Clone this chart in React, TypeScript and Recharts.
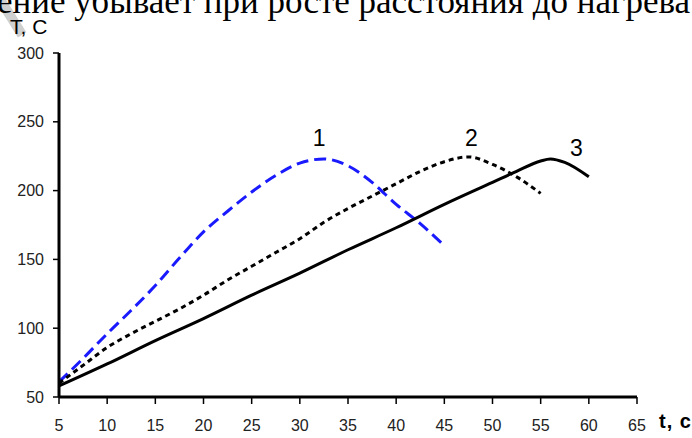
import { LineChart, Line, XAxis, YAxis, ReferenceDot } from "recharts";

// curve 1 (blue dashed)
const tBlue = [5, 7.5, 10, 12.5, 15, 17.5, 20, 22.5, 25, 27.5, 30, 32.5, 35, 37.5, 40, 42.5, 45];
const tempBlue = [61, 78, 96, 113, 131, 151, 170, 185, 199, 211, 220, 223, 218, 206, 190, 176, 160];

// curve 2 (black dotted)
const tDotted = [5, 7.5, 10, 12.5, 15, 17.5, 20, 22.5, 25, 27.5, 30, 32.5, 35, 37.5, 40, 42.5, 45, 47.5, 50, 52.5, 55];
const tempDotted = [60, 73, 86, 96, 105, 114, 124, 135, 145, 155, 165, 177, 187, 196, 205, 214, 221, 224.5, 219, 210, 198];

// curve 3 (black solid)
const tSolid = [5, 10, 15, 20, 25, 30, 35, 40, 45, 50, 52.5, 55, 56, 57.5, 60];
const tempSolid = [58, 74, 91, 107, 124, 140, 157, 173, 190, 206, 214, 221.5, 223, 220.5, 210];

const xTicks = [5, 10, 15, 20, 25, 30, 35, 40, 45, 50, 55, 60, 65];
const yTicks = [50, 100, 150, 200, 250, 300];

const curveLabels = [
  { name: "1", t: 32, temp: 238.5 },
  { name: "2", t: 47.8, temp: 238.5 },
  { name: "3", t: 58.7, temp: 231 },
];

const toRows = (ts: number[], vs: number[]) => ts.map((t, i) => ({ t, temp: vs[i] }));

const sans = "Liberation Sans, Arial, sans-serif";
const tickStyle = { fill: "#222", fontSize: 16, fontFamily: sans };

export default function App() {
  return (
    <div style={{ position: "absolute", left: 0, top: 0, width: 692, height: 438, background: "#fff", overflow: "hidden" }}>
      <div
        style={{
          position: "absolute",
          left: 6,
          top: -4,
          width: 10,
          height: 42,
          background: "#cfcfcf",
          transform: "rotate(-32deg)",
        }}
      />
      <div
        style={{
          position: "absolute",
          left: -3,
          top: -9,
          fontFamily: "Liberation Serif, Times New Roman, serif",
          fontSize: 35,
          lineHeight: "22px",
          whiteSpace: "nowrap",
          color: "#000",
        }}
      >
        ение убывает при росте расстояния до нагрева
      </div>
      <div style={{ position: "absolute", left: 10, top: 18, fontFamily: sans, fontSize: 21, lineHeight: "18px" }}>T, C</div>
      <div style={{ position: "absolute", left: 659, top: 411, fontFamily: sans, fontSize: 20, lineHeight: "20px", fontWeight: "bold", letterSpacing: 1 }}>
        t, c
      </div>
      <LineChart width={692} height={438} margin={{ top: 53, right: 55, left: 0, bottom: 0 }}>
        <XAxis
          type="number"
          dataKey="t"
          domain={[5, 65]}
          ticks={xTicks}
          height={41}
          axisLine={{ stroke: "#000", strokeWidth: 3 }}
          tickLine={{ stroke: "#000", strokeWidth: 1.5 }}
          tickSize={7}
          tickMargin={16}
          tick={tickStyle}
          allowDataOverflow
        />
        <YAxis
          type="number"
          domain={[50, 300]}
          ticks={yTicks}
          width={59}
          axisLine={{ stroke: "#000", strokeWidth: 3 }}
          tickLine={{ stroke: "#000", strokeWidth: 1.5 }}
          tickSize={6}
          tickMargin={9}
          tick={tickStyle}
        />
        <Line
          data={toRows(tBlue, tempBlue)}
          dataKey="temp"
          type="monotone"
          stroke="#1a1aff"
          strokeWidth={3}
          strokeDasharray="12 6"
          dot={false}
          isAnimationActive={false}
        />
        <Line
          data={toRows(tDotted, tempDotted)}
          dataKey="temp"
          type="monotone"
          stroke="#000"
          strokeWidth={3}
          strokeDasharray="5 4"
          dot={false}
          isAnimationActive={false}
        />
        <Line
          data={toRows(tSolid, tempSolid)}
          dataKey="temp"
          type="monotone"
          stroke="#000"
          strokeWidth={3}
          dot={false}
          isAnimationActive={false}
        />
        {curveLabels.map((c) => (
          <ReferenceDot
            key={c.name}
            x={c.t}
            y={c.temp}
            r={0}
            fill="none"
            stroke="none"
            label={{ value: c.name, position: "center", fill: "#000", fontSize: 23, fontFamily: sans }}
          />
        ))}
      </LineChart>
    </div>
  );
}
